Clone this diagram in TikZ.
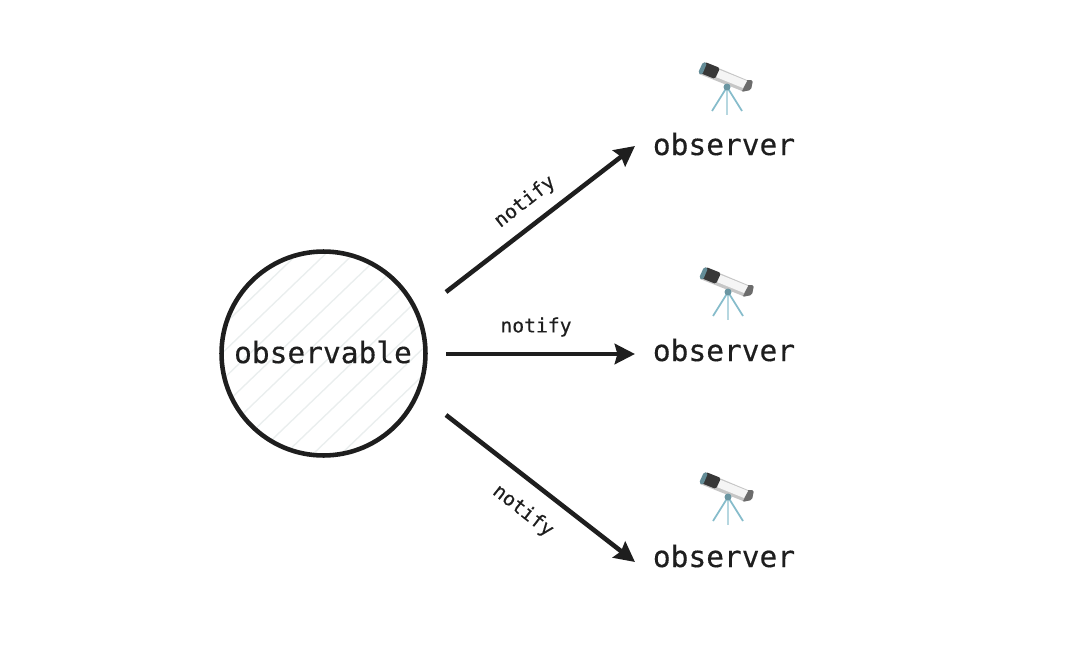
\documentclass[tikz,border=0pt]{standalone}
\usepackage{fontspec}
\setmonofont[FakeBold=0.35]{DejaVu Sans Mono}
\usetikzlibrary{arrows.meta}
\definecolor{inkblack}{HTML}{1E1E1E}
\definecolor{hatchgray}{HTML}{EAEEEE}
\definecolor{legblue}{HTML}{86BCCB}
\tikzset{
  x=0.02cm, y=-0.02cm,
  bigtext/.style={font=\ttfamily\fontsize{16.8}{20}\selectfont, text=inkblack, inner sep=0pt},
  smalltext/.style={font=\ttfamily\fontsize{11.2}{14}\selectfont, text=inkblack, inner sep=0pt},
  subject/.style={circle, draw=inkblack, line width=2.6pt, minimum size=4.08cm, inner sep=0pt},
  notifyarrow/.style={draw=inkblack, line width=2.6pt, -{Stealth[length=11.5pt,width=11.5pt,inset=1.5pt]}},
  telescope/.pic={
    \draw[legblue, line width=1pt] (0,0) -- (-15,24);
    \draw[legblue, line width=1pt] (0,0) -- (15,24);
    \draw[legblue!60, line width=0.7pt] (0,0) -- (0,28);
    \fill[gray!85!black, rounded corners=1] (15,-7) -- (26,-7) -- (24,3) -- (14,5) -- cycle;
    \fill[gray!45] (-23,-25) -- (20,-7) -- (15,4) -- (-28,-13) -- cycle;
    \fill[gray!8] (-22,-23) -- (20,-6) -- (16,1) -- (-26,-16) -- cycle;
    \fill[black!78, rounded corners=1] (-22,-25) -- (-7,-19) -- (-12,-8) -- (-27,-14) -- cycle;
    \fill[legblue!75!black, rounded corners=1] (-24,-25) -- (-20,-24) -- (-25,-12) -- (-29,-14) -- cycle;
    \fill[legblue!80!black] (0,0) circle (3.5);
  }
}
\begin{document}
\begin{tikzpicture}
\useasboundingbox (0,0) rectangle (1079,659);
% hatching of the circle
\begin{scope}
\clip (323.5,353.5) circle (102);
\foreach \x in {6,34,...,480} {\draw[hatchgray, line width=0.8pt] (\x,480) -- (\x+250,240);}
\end{scope}
\node[subject] (subject) at (323.5,353.5) {};
\node[bigtext] (observable) at (323,352) {observable};
% observers, top to bottom
\foreach \n/\y/\px/\py in {a/144/727/87,b/350/728/292,c/556/728/497} {
  \pic at (\px,\py) {telescope};
  \node[bigtext] (observer\n) at (724,\y) {observer};
}
\coordinate (starta) at (446,292);
\coordinate (startb) at (446,354);
\coordinate (startc) at (446,415);
\coordinate (enda) at (635,146);
\coordinate (endb) at (635,354);
\coordinate (endc) at (635,562);
\draw[notifyarrow] (starta) -- (enda);
\draw[notifyarrow] (startb) -- (endb);
\draw[notifyarrow] (startc) -- (endc);
\node[smalltext, rotate=38] (notifya) at (525,202) {notify};
\node[smalltext] (notifyb) at (536,327) {notify};
\node[smalltext, rotate=-38] (notifyc) at (523,511) {notify};
\end{tikzpicture}
\end{document}
